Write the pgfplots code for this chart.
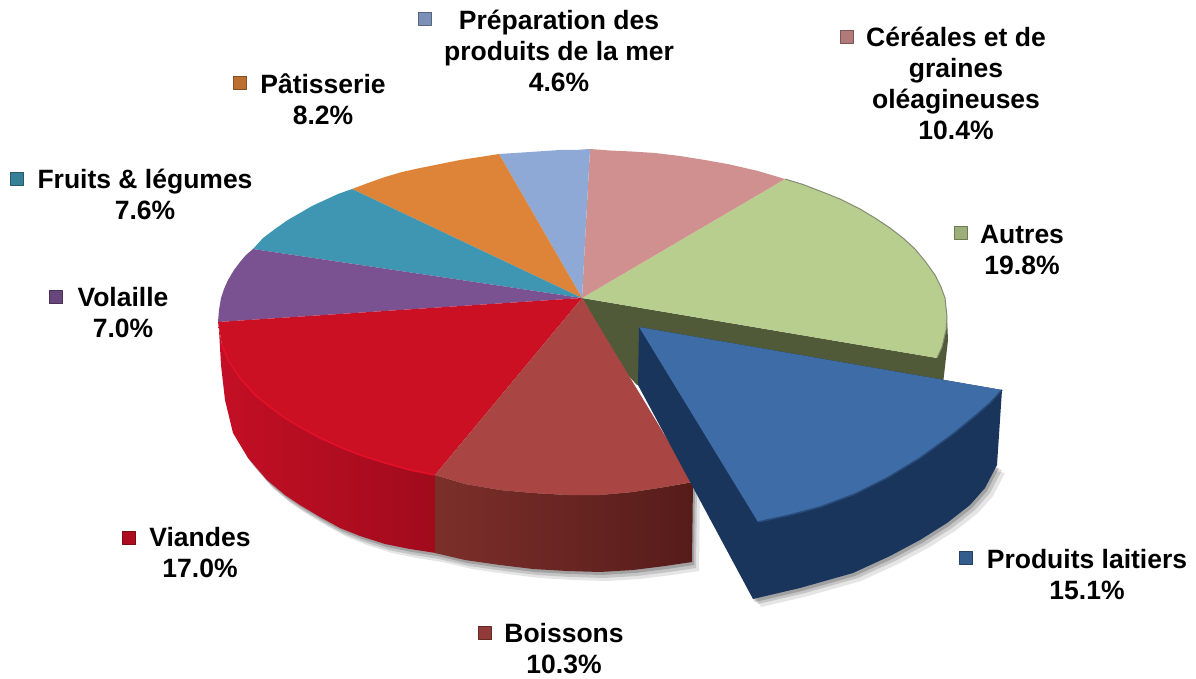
\documentclass[border=0pt]{standalone}
\usepackage{pgfplots}
\usepackage{pgfplotstable}
\pgfplotsset{compat=1.18}
\usepackage{fontspec}
\setmainfont{Liberation Sans}
\definecolor{cRed}{HTML}{CB1024}
\definecolor{cRedL}{HTML}{C40F25}
\definecolor{cRedD}{HTML}{A00B1C}
\definecolor{cRedLip}{HTML}{E4102A}
\definecolor{cBoi}{HTML}{A94542}
\definecolor{cBoiL}{HTML}{7C2F2A}
\definecolor{cBoiD}{HTML}{561C1A}
\definecolor{cBlue}{HTML}{3D6CA6}
\definecolor{cBlueD}{HTML}{1A355C}
\definecolor{cGreen}{HTML}{B8CE8E}
\definecolor{cOlive}{HTML}{505A38}
\definecolor{cPink}{HTML}{D09090}
\definecolor{cLB}{HTML}{8FA9D6}
\definecolor{cOr}{HTML}{DD8438}
\definecolor{cTeal}{HTML}{3F96B2}
\definecolor{cPur}{HTML}{7A5292}
\tikzset{lab/.style={font=\fontsize{26.5}{31}\selectfont\bfseries, align=center, anchor=center, text=black, inner sep=0pt}}
\pgfplotsset{key/.style={only marks, mark=square*, mark size=6.5pt, mark options={fill=#1!85!black, draw=#1!60!black, line width=.8pt}}}
\pgfplotstableread{
x y
219 330
221 365
225 400
233 433
248 458
267 480
285 495
300 505
320 517
340 528
360 536
385 544
410 549
435 553
465 560
500 565
533 569
567 571
600 572
633 570
665 566
692 562
693 480
435 470
}\mainShadow
\pgfplotstableread{
x y
639 385
753 599
800 588
853 573
890 556
920 540
947 523
970 505
985 488
997 465
}\blueShadow
\begin{document}
\begin{tikzpicture}
\begin{axis}[
  scale only axis, width=1196pt, height=679pt,
  xmin=0, xmax=1196, ymin=0, ymax=679, y dir=reverse,
  axis lines=none, clip=false,
  every axis plot/.append style={line join=round},
]
\path (axis cs:0,0) rectangle (axis cs:1196,679);
% shadows
\addplot[fill=black, fill opacity=.10, draw=none] table[x expr=\thisrow{x}+7, y expr=\thisrow{y}+9] {\mainShadow};
\addplot[fill=black, fill opacity=.14, draw=none] table[x expr=\thisrow{x}+4, y expr=\thisrow{y}+6] {\mainShadow};
\addplot[fill=black, fill opacity=.18, draw=none] table[x expr=\thisrow{x}+2, y expr=\thisrow{y}+3] {\mainShadow};
\addplot[fill=black, fill opacity=.10, draw=none] table[x expr=\thisrow{x}+8, y expr=\thisrow{y}+8] {\blueShadow};
\addplot[fill=black, fill opacity=.14, draw=none] table[x expr=\thisrow{x}+5, y expr=\thisrow{y}+5] {\blueShadow};
\addplot[fill=black, fill opacity=.18, draw=none] table[x expr=\thisrow{x}+2, y expr=\thisrow{y}+3] {\blueShadow};
% olive cut wall
\addplot[fill=cOlive, draw=none] coordinates {(582,298)(937,358)(947,318)(948,340)(943,384)(760,384)(637,385)(625,372)};
% top slices, clockwise from the back
\addplot[fill=cGreen, draw=none] coordinates {(582,298)(785,179)(803,184.5)(820,191)(840,199)(860,209)(875,218)(890,228)(903,238)(915,249)(925,261)(935,275)(941,287)(945,298)(947,317)(946,330)(942,347)(937,358)};
\addplot[fill=cPink, draw=none] coordinates {(582,298)(590,149)(610,150.5)(630,151.4)(655,153)(680,156)(705,160)(730,164.5)(758,171)(785,179)};
\addplot[fill=cLB, draw=none] coordinates {(582,298)(499,154)(515,153)(530,152)(545,151)(560,150)(575,150)(590,149)};
\addplot[fill=cOr, draw=none] coordinates {(582,298)(352,189)(368,183)(385,177)(402,172)(420,168)(440,164)(460,160)(480,157)(499,154)};
\addplot[fill=cTeal, draw=none] coordinates {(582,298)(253,249)(263,238)(275,229)(287,220.5)(300,213)(312,206)(325,200)(338,194)(352,189)};
\addplot[fill=cPur, draw=none] coordinates {(582,298)(218,322)(219,310)(221,298)(224,289)(228,280)(234,270)(240,262)(246,255)(253,249)};
% rim line on the green slice
\addplot[draw=cOlive!70!white, line width=1pt] coordinates {(785,179)(803,184.5)(820,191)(840,199)(860,209)(875,218)(890,228)(903,238)(915,249)(925,261)(935,275)(941,287)(945,298)(947,317)(946,330)(942,347)(937,358)};
% red wall
\addplot[left color=cRedL, right color=cRedD, draw=none] coordinates {(218,322)(222,345)(228,360)(240,378)(255,395)(270,407)(285,418)(300,427)(320,438)(340,447)(360,455)(385,463)(410,470)(436,475)(436,553)(410,549)(385,544)(360,536)(340,528)(320,517)(300,505)(285,495)(267,480)(248,458)(233,433)(225,400)(221,365)(219,330)};
% brown wall
\addplot[left color=cBoiL, right color=cBoiD, draw=none] coordinates {(435,475)(465,484)(500,490)(533,493)(567,495)(600,495)(633,492)(665,487)(693,482)(692,562)(665,566)(633,570)(600,572)(567,571)(533,569)(500,565)(465,560)(435,553)};
% red and brown tops
\addplot[fill=cRed, draw=none] coordinates {(582,298)(218,322)(222,345)(228,360)(240,378)(255,395)(270,407)(285,418)(300,427)(320,438)(340,447)(360,455)(385,463)(410,470)(435,475)};
\addplot[draw=cRedLip, line width=1.5pt] coordinates {(222,345)(228,360)(240,378)(255,395)(270,407)(285,418)(300,427)(320,438)(340,447)(360,455)(385,463)(410,470)(435,475)};
\addplot[fill=cBoi, draw=none] coordinates {(582,298)(435,475)(465,484)(500,490)(533,493)(567,495)(600,495)(633,492)(665,487)(693,482)};
% exploded slice
\addplot[fill=cBlueD, draw=none] coordinates {(639,327)(638,385)(753,599)(800,588)(853,573)(890,556)(920,540)(947,523)(970,505)(985,488)(997,465)(1002,390)};
\addplot[fill=cBlue, draw=none] coordinates {(639,327)(1002,390)(990,403)(975,416)(953,434)(920,458)(887,478)(855,494)(820,507)(790,515)(758,522)};
\addplot[draw=cBlueD!60!cBlue, line width=1.5pt] coordinates {(1002,390)(990,403)(975,416)(953,434)(920,458)(887,478)(855,494)(820,507)(790,515)(758,522)};
% legend keys
\addplot[key=cLB] coordinates {(425,19)};
\addplot[key=cPink] coordinates {(847,37)};
\addplot[key=cOr] coordinates {(240,83)};
\addplot[key=cTeal] coordinates {(17,179)};
\addplot[key=cGreen] coordinates {(961,233)};
\addplot[key=cPur] coordinates {(56,297)};
\addplot[key=cRed] coordinates {(129,538)};
\addplot[key=cBoi] coordinates {(485,633)};
\addplot[key=cBlue] coordinates {(966,558)};
% labels
\node[lab] at (axis cs:559,51) {Préparation des\\produits de la mer\\4.6\%};
\node[lab] at (axis cs:956,83) {Céréales et de\\graines\\oléagineuses\\10.4\%};
\node[lab] at (axis cs:323,99) {Pâtisserie\\8.2\%};
\node[lab] at (axis cs:145,194) {Fruits \& légumes\\7.6\%};
\node[lab] at (axis cs:1022,250) {Autres\\19.8\%};
\node[lab] at (axis cs:123,313) {Volaille\\7.0\%};
\node[lab] at (axis cs:200,553) {Viandes\\17.0\%};
\node[lab] at (axis cs:564,649) {Boissons\\10.3\%};
\node[lab] at (axis cs:1087,575) {Produits laitiers\\15.1\%};
\end{axis}
\end{tikzpicture}
\end{document}
